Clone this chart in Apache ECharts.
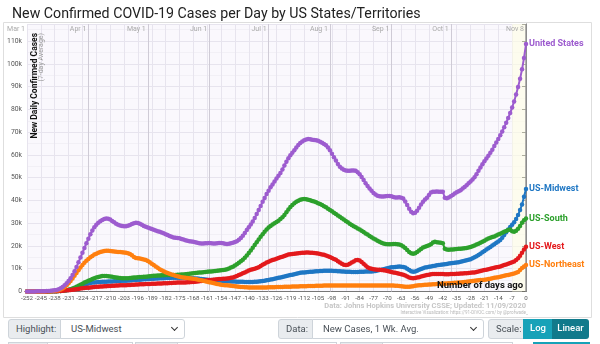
<!DOCTYPE html>
<html>
<head>
<meta charset="utf-8">
<script src="https://cdn.jsdelivr.net/npm/echarts@6/dist/echarts.min.js"></script>
<style>
  html, body { margin: 0; padding: 0; background: #fff; width: 600px; height: 344px; overflow: hidden; }
  #chart { position: absolute; left: 0; top: 0; width: 600px; height: 344px; }
  .ctl { position: absolute; box-sizing: border-box; height: 20px; border: 1px solid #ced4da;
         font-family: Roboto, sans-serif; font-size: 9.5px; color: #495057; line-height: 18px; white-space: nowrap; overflow: hidden; }
  .lab { background: #e9ecef; padding-left: 7px; }
  .sel { background: #fff; padding-left: 10px; }
  .chev { position: absolute; right: 7px; top: 5px; width: 4px; height: 4px; border-right: 1.3px solid #333; border-bottom: 1.3px solid #333; transform: rotate(45deg); }
  .btn { color: #fff; font-weight: 500; text-align: center; border: none; }
</style>
</head>
<body>
<div id="chart"></div>

<!-- control bar under the chart -->
<div class="ctl lab" style="left:8px;top:319px;width:53px;border-radius:3px 0 0 3px;">Highlight:</div>
<div class="ctl sel" style="left:60px;top:319px;width:125px;border-radius:0 3px 3px 0;">US-Midwest<span class="chev"></span></div>
<div class="ctl lab" style="left:278px;top:319px;width:35px;border-radius:3px 0 0 3px;">Data:</div>
<div class="ctl sel" style="left:312px;top:319px;width:172px;border-radius:0 3px 3px 0;">New Cases, 1 Wk. Avg.<span class="chev"></span></div>
<div class="ctl lab" style="left:488px;top:319px;width:36px;border-radius:3px 0 0 3px;">Scale:</div>
<div class="ctl btn" style="left:523px;top:319px;width:30px;background:#17a2b8;">Log</div>
<div class="ctl btn" style="left:552px;top:319px;width:37px;background:#117a8b;border-radius:0 3px 3px 0;">Linear</div>

<div class="ctl lab" style="left:8px;top:342px;width:40px;"></div>
<div class="ctl sel" style="left:47px;top:342px;width:86px;"></div>
<div class="ctl lab" style="left:135px;top:342px;width:43px;"></div>
<div class="ctl sel" style="left:177px;top:342px;width:160px;"></div>
<div class="ctl lab" style="left:340px;top:342px;width:43px;"></div>
<div class="ctl sel" style="left:382px;top:342px;width:131px;"></div>
<div class="ctl btn" style="left:533px;top:342px;width:57px;background:#17a2b8;"></div>

<script>
// Day offsets run from -252 (Mar 1) to 0 (Nov 8); one value per day, in thousands of cases (7-day average).
const firstDay = -252;

const usCases = [
  0.0,0.0,0.0,0.0,0.0,0.1,0.1,
  0.1,0.1,0.1,0.2,0.2,0.3,0.4,
  0.5,0.7,1.0,1.4,2.0,2.7,3.6,
  4.6,5.8,7.2,8.9,10.8,12.8,14.9,
  17.0,19.1,21.2,23.2,25.1,26.8,28.2,
  29.3,30.2,30.9,31.4,31.8,32.1,32.0,
  31.6,31.0,30.4,29.8,29.3,29.0,28.8,
  28.7,28.7,28.9,29.2,29.6,30.0,30.2,
  30.1,29.8,29.3,28.8,28.4,28.1,27.8,
  27.5,27.1,26.8,26.5,26.2,25.9,25.6,
  25.2,24.8,24.4,24.0,23.7,23.6,23.5,
  23.4,23.1,22.8,22.5,22.3,22.1,22.0,
  21.8,21.6,21.4,21.2,21.1,21.1,21.2,
  21.2,21.3,21.2,21.1,21.1,21.2,21.3,
  21.3,21.2,21.0,20.9,21.0,21.2,21.4,
  21.7,22.1,22.7,23.5,24.5,25.7,27.0,
  28.2,29.4,30.7,32.3,34.0,35.8,37.6,
  39.4,41.1,42.8,44.3,45.8,47.0,48.3,
  49.6,50.8,52.0,53.6,55.3,57.0,58.5,
  59.8,60.9,62.0,63.2,64.3,65.2,65.9,
  66.4,66.8,67.0,66.9,66.7,66.5,66.4,
  66.2,65.8,65.3,64.8,64.2,63.3,62.0,
  60.5,59.0,57.5,56.0,54.8,54.0,53.5,
  53.2,53.0,53.0,53.1,53.2,53.0,52.4,
  51.5,50.3,49.0,47.6,46.3,45.2,44.2,
  43.3,42.6,42.1,41.8,41.7,41.7,41.8,
  41.9,42.0,41.8,41.5,41.3,41.3,41.4,
  41.2,40.8,39.5,38.0,36.4,35.0,34.4,
  34.6,35.5,36.8,38.2,39.4,40.4,41.2,
  42.4,43.5,43.8,43.8,43.9,43.8,43.8,
  43.8,41.2,41.0,41.3,41.8,42.4,43.0,
  43.6,44.0,44.5,45.2,45.9,46.7,47.5,
  48.3,49.2,50.2,51.5,53.0,54.5,55.9,
  57.2,58.4,59.6,60.9,62.3,63.9,65.5,
  67.0,68.6,70.3,72.2,74.1,76.2,78.4,
  80.8,83.5,86.5,89.8,93.4,97.6,102.6,
  108.7
];

const midwestCases = [
  0,0,0,0,0,0,0,
  0,0,0,0,0,0.1,0.1,
  0.1,0.1,0.2,0.2,0.3,0.4,0.5,
  0.7,0.9,1.1,1.4,1.7,2.0,2.3,
  2.6,2.9,3.2,3.5,3.7,3.9,4.0,
  4.1,4.2,4.2,4.3,4.3,4.3,4.4,
  4.4,4.4,4.5,4.5,4.6,4.6,4.7,
  4.7,4.7,4.8,4.8,4.9,5.0,5.1,
  5.2,5.2,5.3,5.4,5.4,5.5,5.5,
  5.6,5.6,5.7,5.7,5.8,5.8,5.8,
  5.9,5.9,5.9,6.0,6.0,6.0,6.0,
  6.0,6.0,6.0,5.9,5.9,5.9,5.8,
  5.8,5.7,5.7,5.6,5.5,5.4,5.3,
  5.2,5.1,5.0,5.0,4.9,4.8,4.8,
  4.7,4.6,4.6,4.5,4.5,4.4,4.4,
  4.4,4.3,4.3,4.3,4.3,4.2,4.2,
  4.2,4.2,4.2,4.3,4.3,4.4,4.5,
  4.6,4.7,4.9,5.1,5.3,5.4,5.6,
  5.8,6.0,6.2,6.4,6.6,6.8,7.0,
  7.2,7.4,7.6,7.8,8.0,8.2,8.3,
  8.4,8.5,8.6,8.7,8.7,8.8,8.9,
  8.9,9.0,9.0,9.1,9.1,9.1,9.1,
  9.1,9.0,9.0,8.9,8.9,8.8,8.8,
  8.7,8.7,8.7,8.6,8.6,8.6,8.6,
  8.7,8.7,8.7,8.8,8.8,8.8,8.8,
  8.9,9.0,9.2,9.4,9.6,9.8,10.0,
  10.2,10.4,10.6,10.7,10.8,10.9,11.0,
  10.9,10.8,10.5,10.0,9.4,8.9,8.7,
  8.8,9.1,9.5,9.9,10.2,10.5,10.7,
  10.9,11.0,11.2,11.3,11.5,11.6,11.8,
  11.9,12.0,12.1,12.3,12.4,12.5,12.6,
  12.7,12.9,13.1,13.3,13.5,13.7,13.9,
  14.2,14.6,15.0,15.5,16.0,16.6,17.2,
  17.8,18.4,19.0,19.6,20.2,20.8,21.4,
  22.0,22.6,23.6,24.8,26.0,27.2,28.3,
  29.3,30.4,31.8,33.6,35.8,38.2,41.6,
  45.0
];

const southCases = [
  0,0,0,0,0,0,0,
  0,0,0,0,0,0,0.1,
  0.1,0.1,0.2,0.2,0.3,0.4,0.6,
  0.8,1.0,1.3,1.7,2.1,2.5,3.0,
  3.4,3.9,4.3,4.7,5.1,5.5,5.8,
  6.1,6.4,6.6,6.8,6.8,6.8,6.7,
  6.6,6.5,6.3,6.2,6.0,5.9,5.8,
  5.8,5.8,5.8,5.9,6.0,6.1,6.2,
  6.3,6.4,6.4,6.5,6.5,6.6,6.7,
  6.8,6.9,6.9,7.0,7.0,7.1,7.1,
  7.2,7.2,7.2,7.3,7.3,7.3,7.4,
  7.4,7.5,7.5,7.6,7.7,7.8,7.9,
  8.0,8.1,8.2,8.3,8.4,8.5,8.6,
  8.7,8.8,8.8,8.9,9.0,9.1,9.2,
  9.3,9.4,9.6,9.8,10.1,10.5,10.9,
  11.4,12.0,12.6,13.3,14.0,14.8,15.8,
  16.9,18.0,19.2,20.4,21.6,22.8,24.0,
  25.2,26.2,27.2,28.1,28.8,29.4,30.0,
  30.5,31.1,31.8,32.6,33.6,34.8,36.0,
  37.1,38.0,38.8,39.4,39.9,40.3,40.5,
  40.6,40.5,40.3,40.1,39.8,39.5,39.2,
  38.8,38.4,38.0,37.5,37.0,36.4,35.8,
  35.2,34.6,34.0,33.4,32.8,32.2,31.6,
  31.0,30.4,29.8,29.2,28.7,28.2,27.7,
  27.2,26.7,26.1,25.5,25.0,24.4,23.8,
  23.3,22.8,22.3,21.8,21.4,21.1,20.9,
  20.8,20.7,20.8,20.9,20.9,20.8,20.6,
  20.3,19.8,19.1,18.2,17.4,16.8,16.6,
  16.8,17.3,18.0,18.7,19.3,19.7,20.0,
  20.3,20.8,21.5,21.8,21.6,21.5,21.4,
  21.2,18.8,18.4,18.3,18.4,18.5,18.6,
  18.7,18.8,18.8,18.9,19.0,19.1,19.3,
  19.6,19.9,20.2,20.6,21.0,21.4,21.8,
  22.3,22.8,23.3,23.6,23.9,24.2,24.6,
  25.0,25.4,25.8,26.2,26.6,27.0,27.2,
  26.5,26.2,26.7,27.6,28.8,30.2,31.3,
  32.1
];

const westCases = [
  0,0,0,0,0,0,0,
  0,0,0,0,0.1,0.1,0.1,
  0.1,0.1,0.2,0.2,0.3,0.4,0.5,
  0.6,0.7,0.8,0.9,1.0,1.1,1.3,
  1.4,1.5,1.6,1.7,1.8,1.9,2.0,
  2.1,2.1,2.2,2.2,2.3,2.3,2.4,
  2.4,2.5,2.5,2.6,2.6,2.7,2.7,
  2.8,2.8,2.9,2.9,3.0,3.0,3.1,
  3.1,3.2,3.2,3.2,3.3,3.3,3.3,
  3.4,3.4,3.4,3.5,3.5,3.5,3.6,
  3.6,3.6,3.7,3.7,3.8,3.8,3.9,
  3.9,4.0,4.0,4.0,4.1,4.1,4.2,
  4.2,4.3,4.4,4.5,4.6,4.7,4.8,
  4.9,5.0,5.1,5.2,5.3,5.4,5.5,
  5.5,5.6,5.6,5.7,5.8,6.0,6.2,
  6.5,6.8,7.2,7.6,8.0,8.4,8.8,
  9.2,9.5,9.8,10.0,10.3,10.7,11.2,
  11.7,12.2,12.7,13.1,13.5,13.8,14.1,
  14.4,14.7,15.0,15.3,15.6,15.9,16.2,
  16.4,16.5,16.6,16.7,16.8,16.9,17.0,
  17.0,17.1,17.1,17.0,17.0,16.9,16.8,
  16.7,16.5,16.3,16.1,15.8,15.5,15.1,
  14.7,14.3,13.9,13.3,12.7,12.2,11.8,
  11.6,11.8,12.2,12.7,13.2,13.7,13.8,
  13.6,13.0,12.2,11.4,10.6,10.2,10.0,
  9.8,9.7,9.6,9.5,9.4,9.3,9.2,
  9.0,8.8,8.6,8.4,8.2,8.0,7.8,
  7.6,7.4,7.0,6.6,6.2,5.9,5.8,
  5.9,6.1,6.3,6.6,6.8,7.0,7.2,
  7.4,7.6,7.7,7.7,7.7,7.7,7.7,
  7.7,7.6,7.6,7.6,7.7,7.7,7.7,
  7.8,7.8,7.9,7.9,8.0,8.0,8.1,
  8.2,8.3,8.4,8.6,8.8,9.0,9.2,
  9.4,9.6,9.8,10.0,10.2,10.4,10.6,
  10.8,11.0,11.3,11.6,11.9,12.2,12.5,
  12.8,13.2,13.8,14.6,15.7,17.0,18.4,
  19.7
];

const northeastCases = [
  0,0,0,0,0,0,0,
  0,0,0,0.1,0.1,0.1,0.2,
  0.3,0.4,0.6,0.9,1.3,1.9,2.7,
  3.6,4.6,5.7,6.9,8.1,9.3,10.5,
  11.6,12.6,13.5,14.3,15.0,15.6,16.2,
  16.6,17.0,17.3,17.6,17.8,17.9,17.9,
  17.8,17.7,17.6,17.5,17.4,17.3,17.2,
  17.1,17.0,16.8,16.5,15.9,15.2,14.7,
  14.6,14.5,14.3,14.1,13.8,13.4,12.8,
  12.2,11.6,11.0,10.4,9.8,9.3,8.9,
  8.5,8.1,7.8,7.5,7.2,6.9,6.7,
  6.5,6.3,6.2,6.0,5.9,5.8,5.7,
  5.6,5.5,5.3,5.1,4.9,4.7,4.5,
  4.3,4.1,3.9,3.7,3.5,3.3,3.2,
  3.0,2.9,2.8,2.7,2.6,2.5,2.4,
  2.3,2.2,2.1,2.0,2.0,1.9,1.9,
  1.8,1.8,1.8,1.8,1.8,1.8,1.8,
  1.8,1.8,1.8,1.9,1.9,1.9,1.9,
  2.0,2.0,2.0,2.0,2.1,2.1,2.1,
  2.1,2.2,2.2,2.2,2.2,2.3,2.3,
  2.3,2.3,2.4,2.4,2.4,2.4,2.5,
  2.5,2.5,2.5,2.6,2.6,2.6,2.6,
  2.6,2.6,2.6,2.6,2.6,2.6,2.6,
  2.6,2.6,2.6,2.6,2.6,2.6,2.6,
  2.6,2.6,2.6,2.6,2.6,2.6,2.6,
  2.6,2.6,2.6,2.6,2.6,2.6,2.6,
  2.6,2.6,2.6,2.6,2.5,2.5,2.4,
  2.3,2.2,2.1,2.1,2.1,2.2,2.3,
  2.5,2.6,2.7,2.8,2.9,3.0,3.0,
  3.1,3.1,3.2,3.2,3.3,3.3,3.4,
  3.4,3.5,3.5,3.6,3.6,3.7,3.8,
  3.8,3.9,4.0,4.1,4.2,4.3,4.4,
  4.5,4.6,4.7,4.8,4.9,5.0,5.1,
  5.2,5.3,5.5,5.6,5.8,6.0,6.2,
  6.3,6.5,6.7,6.9,7.1,7.3,7.5,
  7.7,7.9,8.2,8.6,9.4,10.3,11.0,
  11.6
];

// Month markers along the top of the plot
const monthDays = [-252, -221, -191, -160, -130, -99, -68, -38, 0];
const monthLabels = ['Mar 1', 'Apr 1', 'May 1', 'Jun 1', 'Jul 1', 'Aug 1', 'Sep 1', 'Oct 1', 'Nov 8'];

// Series drawing order (bottom to top)
const regionNames = ['US-Midwest', 'US-South', 'US-West', 'US-Northeast', 'United States'];
const regionValues = [midwestCases, southCases, westCases, northeastCases, usCases];
const regionColors = ['#1f77c4', '#2ca02c', '#e3191c', '#ff7f0e', '#9d5ccf'];

const labelFont = 'Roboto, sans-serif';

const chart = echarts.init(document.getElementById('chart'), null, { renderer: 'canvas' });

const series = regionNames.map((name, k) => ({
  name: name,
  type: 'line',
  data: regionValues[k].map((v, i) => [firstDay + i, v]),
  showSymbol: true,
  showAllSymbol: true,
  symbol: 'circle',
  symbolSize: 4.5,
  itemStyle: { color: regionColors[k] },
  lineStyle: { color: regionColors[k], width: 2 },
  emphasis: { disabled: true },
  silent: true,
  z: 5 + k,
  endLabel: {
    show: true,
    formatter: '{a}',
    color: regionColors[k],
    fontFamily: labelFont,
    fontWeight: 'bold',
    fontSize: 9,
    distance: 3
  }
}));

// Month separator lines and the shaded final week ride on the first series
series[0].markLine = {
  silent: true,
  symbol: ['none', 'none'],
  label: { show: false },
  animation: false,
  data: monthDays.slice(1).map(d => ({
    xAxis: d,
    lineStyle: { color: d === 0 ? '#9a9a9a' : '#cfcbd6', width: d === 0 ? 1.5 : 1, type: 'solid' }
  }))
};
series[0].markArea = {
  silent: true,
  itemStyle: { color: 'rgba(255, 255, 228, 0.6)' },
  data: [[{ xAxis: -7 }, { xAxis: 0 }]]
};

const option = {
  animation: false,
  backgroundColor: '#ffffff',
  title: {
    text: 'New Confirmed COVID-19 Cases per Day by US States/Territories',
    left: 7,
    top: 2,
    textStyle: { fontFamily: labelFont, fontSize: 14.2, fontWeight: 'normal', color: '#222' }
  },
  grid: {
    left: 27, right: 74, top: 24, bottom: 52.5,
    show: true, backgroundColor: '#faf8fd', borderWidth: 0
  },
  xAxis: {
    type: 'value',
    min: firstDay,
    max: 0,
    interval: 7,
    axisLine: { show: true, lineStyle: { color: '#777', width: 1 } },
    axisTick: { show: false },
    axisLabel: { color: '#555', fontFamily: labelFont, fontSize: 6.2, margin: 4 },
    splitLine: { show: true, lineStyle: { color: '#e7e4ee', width: 1 } }
  },
  yAxis: {
    type: 'value',
    min: 0,
    max: 117.5,
    interval: 10,
    axisLine: { show: true, lineStyle: { color: '#666', width: 1 } },
    axisTick: { show: true, length: 4, lineStyle: { color: '#333' } },
    axisLabel: {
      color: '#555', fontFamily: labelFont, fontSize: 6.8, margin: 5,
      formatter: v => (v % 10 !== 0 ? '' : (v === 0 ? '0' : v + 'k'))
    },
    splitLine: { show: true, lineStyle: { color: '#e7e4ee', width: 1 } },
    minorTick: { show: false, splitNumber: 2 },
    minorSplitLine: { show: true, lineStyle: { color: '#f2f0f6', width: 1 } }
  },
  series: series
};

chart.setOption(option);

// Text placed against the axes once the scales are known
const graphics = [
  { type: 'rect', z: -10, silent: true, shape: { x: 3.5, y: 22.5, width: 588, height: 295 },
    style: { fill: 'none', stroke: '#dedede', lineWidth: 1 } },
  { type: 'text', x: 35, y: 33, rotation: Math.PI / 2, z: 20, silent: true,
    style: { text: 'New Daily Confirmed Cases', font: 'bold 8.5px ' + labelFont, fill: '#111', align: 'right', verticalAlign: 'middle' } },
  { type: 'text', x: 41, y: 33, rotation: Math.PI / 2, z: 20, silent: true,
    style: { text: '(7-day Average)', font: '7px ' + labelFont, fill: '#999', align: 'right', verticalAlign: 'middle' } },
  { type: 'text', x: 523, y: 286, z: 20, silent: true,
    style: { text: 'Number of days ago', font: 'bold 9.5px ' + labelFont, fill: '#111', align: 'right', verticalAlign: 'middle' } },
  { type: 'text', x: 526, y: 306, z: 20, silent: true,
    style: { text: 'Data: Johns Hopkins University CSSE; Updated: 11/09/2020', font: 'bold 7.5px ' + labelFont, fill: '#c6c6c6', align: 'right', verticalAlign: 'middle' } },
  { type: 'text', x: 528, y: 313, z: 20, silent: true,
    style: { text: 'Interactive Visualization: https://91-DIVOC.com/ by @profwade_', font: '4.5px ' + labelFont, fill: '#b8b8b8', align: 'right', verticalAlign: 'middle' } }
];
monthDays.forEach((d, i) => {
  const px = chart.convertToPixel({ xAxisIndex: 0 }, d);
  graphics.push({
    type: 'text', x: px - 2, y: 29, z: 20, silent: true,
    style: { text: monthLabels[i], font: '7px ' + labelFont, fill: '#aaa', align: 'right', verticalAlign: 'middle' }
  });
});
chart.setOption({ graphic: graphics });
</script>
</body>
</html>
